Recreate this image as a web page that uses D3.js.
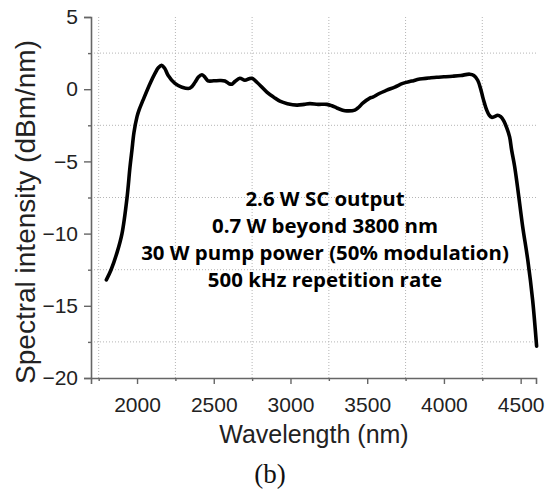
<!DOCTYPE html>
<html><head><meta charset="utf-8">
<script src="https://cdn.jsdelivr.net/npm/d3@7"></script>
<style>
html,body{margin:0;padding:0;background:#fff;}
svg{display:block;}
</style></head>
<body>
<svg id="chart" width="547" height="493"></svg>
<script>
const wavelength = [1800,1831,1870,1902,1935,1954,1967,1980,2000,2013,2039,2085,2117,2140,2160,2180,2202,2247,2293,2345,2378,2400,2423,2445,2462,2500,2540,2573,2600,2618,2640,2670,2703,2730,2749,2781,2846,2890,2931,2980,3042,3090,3126,3180,3237,3270,3302,3340,3367,3419,3445,3471,3517,3536,3582,3628,3680,3732,3790,3842,3900,3953,4000,4057,4110,4168,4195,4220,4240,4253,4265,4279,4295,4311,4330,4350,4370,4390,4410,4428,4441,4460,4480,4513,4546,4578,4604];
const intensity = [-13.2,-12.5,-11.3,-10.0,-7.5,-5.4,-4.2,-3.0,-1.9,-1.45,-0.76,0.4,1.1,1.5,1.65,1.45,0.97,0.4,0.14,0.07,0.48,0.85,1.0,0.8,0.58,0.58,0.6,0.57,0.38,0.35,0.55,0.76,0.62,0.72,0.76,0.48,-0.2,-0.55,-0.83,-1.0,-1.1,-1.05,-1.0,-1.05,-1.05,-1.15,-1.3,-1.45,-1.5,-1.45,-1.25,-0.97,-0.62,-0.55,-0.28,-0.07,0.15,0.4,0.56,0.7,0.77,0.83,0.86,0.9,0.95,1.04,0.95,0.62,0.0,-0.55,-1.0,-1.45,-1.8,-1.95,-1.9,-1.8,-1.9,-2.2,-2.7,-3.3,-4.2,-5.3,-6.8,-9.5,-11.8,-14.6,-17.8];
const xMajorTicks = [2000,2500,3000,3500,4000,4500];
const xMinorTicks = [1750,2250,2750,3250,3750,4250];
const yMajorTicks = [-20,-15,-10,-5,0,5];
const yMinorTicks = [-17.5,-12.5,-7.5,-2.5,2.5];
const xDomain = [1700,4600];
const yDomain = [-20,5];
const annotation = ["2.6 W SC output","0.7 W beyond 3800 nm","30 W pump power (50% modulation)","500 kHz repetition rate"];
const xTitle = "Wavelength (nm)";
const yTitle = "Spectral intensity (dBm/nm)";
const caption = "(b)";

const svg = d3.select("#chart");
const x = d3.scaleLinear().domain(xDomain).range([91,536]);
const y = d3.scaleLinear().domain(yDomain).range([378,17]);

// grid (dotted, at minor positions)
const grid = svg.append("g").attr("stroke","#b5b5b5").attr("stroke-width",1).attr("stroke-dasharray","1,2");
grid.selectAll("line.v").data(xMinorTicks).join("line").attr("class","v")
  .attr("x1",d=>x(d)).attr("x2",d=>x(d)).attr("y1",y(5)).attr("y2",y(-20));
grid.selectAll("line.h").data(yMinorTicks).join("line").attr("class","h")
  .attr("x1",x(xDomain[0])).attr("x2",x(xDomain[1])).attr("y1",d=>y(d)).attr("y2",d=>y(d));

const axisColor = "#666";
const font = "'Liberation Sans', Arial, sans-serif";

// x axis
const gx = svg.append("g").attr("transform",`translate(0,${y(-20)})`)
  .call(d3.axisBottom(x).tickValues(xMajorTicks).tickSize(6).tickPadding(13).tickFormat(d3.format("d")));
const gxm = svg.append("g").attr("transform",`translate(0,${y(-20)})`)
  .call(d3.axisBottom(x).tickValues(xMinorTicks).tickSize(3).tickFormat(""));
// y axis
const gy = svg.append("g").attr("transform",`translate(${x(xDomain[0])},0)`)
  .call(d3.axisLeft(y).tickValues(yMajorTicks).tickSize(7).tickPadding(6).tickFormat(d3.format("d")));
const gym = svg.append("g").attr("transform",`translate(${x(xDomain[0])},0)`)
  .call(d3.axisLeft(y).tickValues(yMinorTicks).tickSize(3).tickFormat(""));

[gx,gxm,gy,gym].forEach(g=>{
  g.select(".domain").attr("stroke",axisColor).attr("stroke-width",1.6);
  g.selectAll(".tick line").attr("stroke",axisColor).attr("stroke-width",1.4);
  g.selectAll(".tick text").attr("fill","#222").style("font-family",font).style("font-size","21px");
});
gxm.select(".domain").remove(); gym.select(".domain").remove();

// curve
const pts = wavelength.map((w,i)=>[w,intensity[i]]);
svg.append("path").datum(pts)
  .attr("fill","none").attr("stroke","#000").attr("stroke-width",3.6)
  .attr("stroke-linejoin","round").attr("stroke-linecap","round")
  .attr("d",d3.line().x(d=>x(d[0])).y(d=>y(d[1])).curve(d3.curveCatmullRom.alpha(0.5)));

// annotation
const ann = svg.append("g");
const lines = ann.selectAll("text").data(annotation).join("text")
  .attr("x",325).attr("y",(d,i)=>206+i*27)
  .attr("text-anchor","middle").attr("fill","#000")
  .style("font-family","'Open Sans', sans-serif").style("font-weight","bold").style("font-size","19px")
  .text(d=>d);
const w3 = lines.nodes()[2].getComputedTextLength();
const fs = 19*368/w3;
lines.style("font-size",fs+"px");

// titles
svg.append("text").attr("x",314).attr("y",443).attr("text-anchor","middle")
  .attr("fill","#222").style("font-family",font).style("font-size","25px").text(xTitle);
svg.append("text").attr("transform","translate(35,212) rotate(-90)").attr("text-anchor","middle")
  .attr("fill","#222").style("font-family",font).style("font-size","28px").text(yTitle);
svg.append("text").attr("x",270).attr("y",483).attr("text-anchor","middle")
  .attr("fill","#111").style("font-family","'Liberation Serif', 'DejaVu Serif', serif").style("font-size","27px").text(caption);
</script>
</body></html>
